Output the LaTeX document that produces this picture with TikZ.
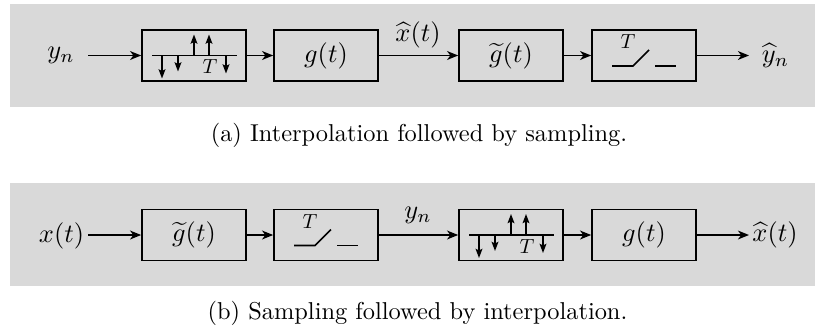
\documentclass[tikz,border=0pt]{standalone}
\usetikzlibrary{arrows.meta}
\definecolor{panelgrey}{HTML}{D9D9D9}
\tikzset{
  block/.style={draw=black,line width=0.85pt,minimum width=52pt,minimum height=25.5pt,inner sep=0pt},
  link/.style={line width=0.85pt,-{Stealth[length=5.5pt,width=4.4pt,inset=1.6pt]}},
  spike/.style={line width=0.8pt,-{Stealth[length=4.6pt,width=3.4pt,inset=0.8pt]}},
  wire/.style={line width=0.8pt},
  sigtext/.style={scale=1.32,inner sep=0pt},
  captext/.style={scale=1.22,inner sep=0pt},
  smalltext/.style={scale=1.02,inner sep=0pt},
  pics/impulses/.style={code={
    \draw[wire] (-42,0) -- (43,0);
    \draw[spike] (-32,0) -- (-32,23);
    \draw[spike] (-16,0) -- (-16,16);
    \draw[spike] (0,0) -- (0,-21);
    \draw[spike] (15,0) -- (15,-21);
    \draw[spike] (32,0) -- (32,18);
    \node[smalltext] at (16,11.5) {$T$};
  }},
  pics/sampler/.style={code={
    \draw[wire] (-32,10.5) -- (-11,10.5) -- (5,-5.5);
    \draw[wire] (11,10.5) -- (32,10.5);
    \node[smalltext] at (-16,-13.5) {$T$};
  }}
}
\begin{document}
\begin{tikzpicture}[x=0.5pt,y=-0.5pt]
\useasboundingbox (0,0) rectangle (815,327);
\fill[panelgrey] (10,4) rectangle (815,107);
\fill[panelgrey] (10,183) rectangle (815,286);

% top row
\node[sigtext] (ylabel) at (61,55) {$y_n$};
\coordinate (ain) at (88,55.5);
\node[block] (a1) at (194,55.5) {};
\node[block] (a2) at (326,55.5) {\scalebox{1.32}{$g(t)$}};
\node[block] (a3) at (511,55.5) {\scalebox{1.32}{$\widetilde{g}(t)$}};
\node[block] (a4) at (644,55.5) {};
\coordinate (aout) at (749,55.5);
\node[sigtext] (xhat) at (418,34.5) {$\widehat{x}(t)$};
\node[sigtext] (yhat) at (775.5,55.5) {$\widehat{y}_n$};
\pic at (a1.center) {impulses};
\pic at (a4.center) {sampler};
\draw[link] (ain) -- (a1.west);
\draw[link] (a1.east) -- (a2.west);
\draw[link] (a2.east) -- (a3.west);
\draw[link] (a3.east) -- (a4.west);
\draw[link] (a4.east) -- (aout);
\node[captext] (capa) at (419,135) {(a) Interpolation followed by sampling.};

% bottom row
\node[sigtext] (xlabel) at (61.5,236) {$x(t)$};
\coordinate (bin) at (88,235);
\node[block] (b1) at (194,235) {\scalebox{1.32}{$\widetilde{g}(t)$}};
\node[block] (b2) at (326,235) {};
\node[block] (b3) at (511,235) {};
\node[block] (b4) at (644,235) {\scalebox{1.32}{$g(t)$}};
\coordinate (bout) at (749,235);
\node[sigtext] (ymid) at (418,215) {$y_n$};
\node[sigtext] (xout) at (775,235) {$\widehat{x}(t)$};
\pic at (b2.center) {sampler};
\pic at (b3.center) {impulses};
\draw[link] (bin) -- (b1.west);
\draw[link] (b1.east) -- (b2.west);
\draw[link] (b2.east) -- (b3.west);
\draw[link] (b3.east) -- (b4.west);
\draw[link] (b4.east) -- (bout);
\node[captext] (capb) at (417.5,313) {(b) Sampling followed by interpolation.};
\end{tikzpicture}
\end{document}
